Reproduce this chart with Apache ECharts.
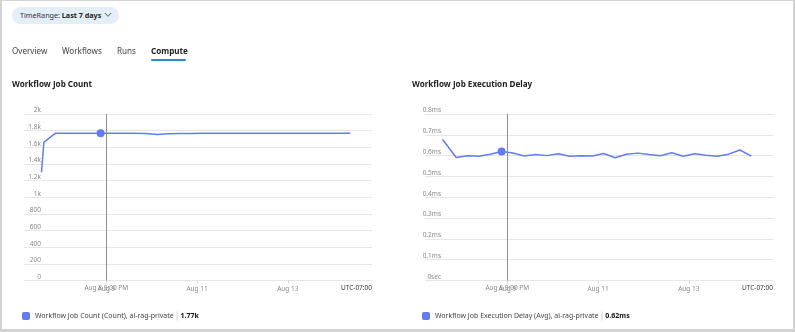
<!DOCTYPE html>
<html>
<head>
<meta charset="utf-8">
<script src="https://cdn.jsdelivr.net/npm/echarts@6/dist/echarts.min.js"></script>
<style>
  html, body { margin: 0; padding: 0; background: #fff; }
  body { width: 795px; height: 332px; position: relative; overflow: hidden;
         font-family: "Noto Sans", "Open Sans", sans-serif; }
  #chart { position: absolute; left: 0; top: 0; width: 795px; height: 332px; }
  .frame { position: absolute; left: 0; top: 0; width: 795px; height: 332px; box-sizing: border-box;
           border: 2px solid #d2d2d2; border-top-width: 1px; border-bottom-width: 3px; pointer-events: none; z-index: 5; }
  .pill { position: absolute; left: 12px; top: 7px; height: 17px; width: 107px; border-radius: 9px;
          background: #e4eef9; z-index: 3; font-size: 7.2px; color: #333; line-height: 17px; }
  .pill span.t { position: absolute; left: 8px; top: 0; white-space: nowrap; }
  .pill b { font-weight: 700; color: #222; }
  .pill svg { position: absolute; left: 92px; top: 5px; }
  .tabs { position: absolute; top: 45px; left: 0; z-index: 3; font-size: 8.1px; color: #444; }
  .tabs span { position: absolute; top: 0; white-space: nowrap; }
  .tabs .on { font-weight: 700; color: #222; }
  .tabs .bar { position: absolute; top: 14px; height: 2px; background: #2b88d8; border-radius: 1px; }
</style>
</head>
<body>
<div id="chart"></div>
<div class="frame"></div>
<div class="pill"><span class="t">TimeRange: <b>Last 7 days</b></span>
  <svg width="8" height="6" viewBox="0 0 8 6"><polyline points="0.8,1 4,4.3 7.2,1" fill="none" stroke="#444" stroke-width="0.9"/></svg>
</div>
<div class="tabs">
  <span style="left:12px">Overview</span>
  <span style="left:62px">Workflows</span>
  <span style="left:117px">Runs</span>
  <span class="on" style="left:151px">Compute</span>
  <div class="bar" style="left:151px;width:35px"></div>
</div>
<script>
// Sample times (6-hour buckets after the first partial one)
const times = [
  '2024-08-07 13:45', '2024-08-07 15:00', '2024-08-07 21:00',
  '2024-08-08 03:00', '2024-08-08 09:00', '2024-08-08 15:00', '2024-08-08 21:00',
  '2024-08-09 03:00', '2024-08-09 09:00', '2024-08-09 15:00', '2024-08-09 21:00',
  '2024-08-10 03:00', '2024-08-10 09:00', '2024-08-10 15:00', '2024-08-10 21:00',
  '2024-08-11 03:00', '2024-08-11 09:00', '2024-08-11 15:00', '2024-08-11 21:00',
  '2024-08-12 03:00', '2024-08-12 09:00', '2024-08-12 15:00', '2024-08-12 21:00',
  '2024-08-13 03:00', '2024-08-13 09:00', '2024-08-13 15:00', '2024-08-13 21:00',
  '2024-08-14 03:00', '2024-08-14 09:00'
];

// Workflow Job Count (Count)
const jobCount = [
  1300, 1660, 1768,
  1769, 1770, 1770, 1770,
  1770, 1769, 1768, 1766,
  1755, 1764, 1766, 1767,
  1768, 1768, 1768, 1768,
  1768, 1769, 1769, 1769,
  1769, 1768, 1768, 1768,
  1768, 1768
];

// Workflow Job Execution Delay (Avg), ms
const execDelay = [
  0.678, 0.663, 0.591,
  0.599, 0.597, 0.607, 0.620,
  0.613, 0.598, 0.605, 0.600,
  0.609, 0.597, 0.599, 0.598,
  0.610, 0.590, 0.607, 0.612,
  0.605, 0.599, 0.614, 0.597,
  0.609, 0.602, 0.597, 0.607,
  0.627, 0.598
];

const hoverIndex = 6;                      // highlighted sample
const hoverLabel = 'Aug 8 9:00 PM';
const cursorTime = '2024-08-09 00:00';

const xTickTimes = ['2024-08-09 00:00', '2024-08-11 00:00', '2024-08-13 00:00'];
const xTickLabels = ['Aug 9', 'Aug 11', 'Aug 13'];
const countTickLabels = ['0', '200', '400', '600', '800', '1k', '1.2k', '1.4k', '1.6k', '1.8k', '2k'];
const delayTickLabels = ['0sec', '0.1ms', '0.2ms', '0.3ms', '0.4ms', '0.5ms', '0.6ms', '0.7ms', '0.8ms'];

const seriesNames = ['Workflow Job Count (Count), ai-rag-private', 'Workflow Job Execution Delay (Avg), ai-rag-private'];
const timeZoneLabel = 'UTC-07:00';
const titles = ['Workflow Job Count', 'Workflow Job Execution Delay'];

const FONT = '"Noto Sans", "Open Sans", sans-serif';
const LINE = '#637cef';
const ts = s => new Date(s.replace(' ', 'T') + ':00').getTime();
const xMin = ts('2024-08-07 04:30');
const xMax = ts('2024-08-14 20:30');
const xTicks = xTickTimes.map(ts);

function buildData(vals) {
  return vals.map((v, i) => i === hoverIndex
    ? { value: [ts(times[i]), v], symbol: 'circle', symbolSize: 8 }
    : { value: [ts(times[i]), v] });
}

// Timestamps on a plain numeric axis so the tick positions can be listed exactly
function xAxis(gridIndex) {
  return {
    type: 'value', gridIndex, min: xMin, max: xMax, scale: true,
    axisLine: { show: false },
    axisTick: { show: true, customValues: xTicks, length: 3, lineStyle: { color: '#d8d8d8' } },
    splitLine: { show: false },
    axisLabel: {
      customValues: xTicks, margin: 5, color: '#8a8a8a', fontSize: 6.5, fontFamily: FONT,
      formatter: v => { const k = xTicks.indexOf(v); return k >= 0 ? xTickLabels[k] : ''; }
    }
  };
}

function yAxis(gridIndex, max, interval, labels, margin) {
  return {
    type: 'value', gridIndex, min: 0, max, interval,
    axisLine: { show: false }, axisTick: { show: false },
    splitLine: { lineStyle: { color: '#e6e6e6', width: 1 } },
    axisLabel: {
      margin, color: '#8a8a8a', fontSize: 6.5, fontFamily: FONT, verticalAlign: 'bottom',
      formatter: v => labels[Math.round(v / interval)]
    }
  };
}

function cursorLine() {
  return {
    silent: true, symbol: 'none',
    lineStyle: { color: '#8f8f8f', width: 1, type: 'solid' },
    label: { show: true, position: 'start', distance: 4, formatter: hoverLabel,
             color: '#8a8a8a', fontSize: 6.5, fontFamily: FONT },
    data: [{ xAxis: ts(cursorTime) }]
  };
}

const fmtCount = v => (v / 1000).toFixed(2) + 'k';
const fmtDelay = v => v.toFixed(2) + 'ms';

function legend(idx, left, valueText) {
  return {
    show: true, data: [seriesNames[idx]], left, top: 305,
    icon: 'roundRect', itemWidth: 8, itemHeight: 8, itemGap: 0,
    textStyle: {
      fontFamily: FONT,
      rich: {
        n: { fontSize: 7, color: '#444', fontFamily: FONT },
        g: { width: 3 },
        s: { width: 0.8, height: 9, backgroundColor: '#c8c8c8' },
        v: { fontSize: 7, color: '#111', fontWeight: 'bold', fontFamily: FONT }
      }
    },
    formatter: name => '{n|' + name + '}{g|}{s|}{g|}{v|' + valueText + '}'
  };
}

const chart = echarts.init(document.getElementById('chart'), null, { renderer: 'canvas' });
chart.setOption({
  animation: false,
  color: [LINE, LINE],
  textStyle: { fontFamily: FONT },
  title: [
    { text: titles[0], left: 7, top: 76, textStyle: { fontSize: 8.1, fontWeight: 'bold', color: '#222', fontFamily: FONT } },
    { text: titles[1], left: 407, top: 76, textStyle: { fontSize: 8.1, fontWeight: 'bold', color: '#222', fontFamily: FONT } }
  ],
  grid: [
    { left: 24, right: 423, top: 114, bottom: 51.5 },
    { left: 425, right: 22, top: 114, bottom: 51.5 }
  ],
  xAxis: [xAxis(0), xAxis(1)],
  yAxis: [
    yAxis(0, 2000, 200, countTickLabels, -17),
    yAxis(1, 0.8, 0.1, delayTickLabels, -16)
  ],
  legend: [
    legend(0, 17, fmtCount(jobCount[hoverIndex])),
    legend(1, 417, fmtDelay(execDelay[hoverIndex]))
  ],
  graphic: [
    { type: 'text', right: 423, top: 284.5, style: { text: timeZoneLabel, fill: '#333', fontSize: 6.5, fontFamily: FONT, textAlign: 'right' } },
    { type: 'text', right: 22, top: 284.5, style: { text: timeZoneLabel, fill: '#333', fontSize: 6.5, fontFamily: FONT, textAlign: 'right' } }
  ],
  series: [
    {
      name: seriesNames[0], type: 'line', xAxisIndex: 0, yAxisIndex: 0,
      data: buildData(jobCount), symbol: 'none', showSymbol: true, showAllSymbol: true,
      lineStyle: { width: 1.5, color: LINE }, itemStyle: { color: LINE },
      markLine: cursorLine()
    },
    {
      name: seriesNames[1], type: 'line', xAxisIndex: 1, yAxisIndex: 1,
      data: buildData(execDelay), symbol: 'none', showSymbol: true, showAllSymbol: true,
      lineStyle: { width: 1.5, color: LINE }, itemStyle: { color: LINE },
      markLine: cursorLine()
    }
  ]
});
</script>
</body>
</html>
